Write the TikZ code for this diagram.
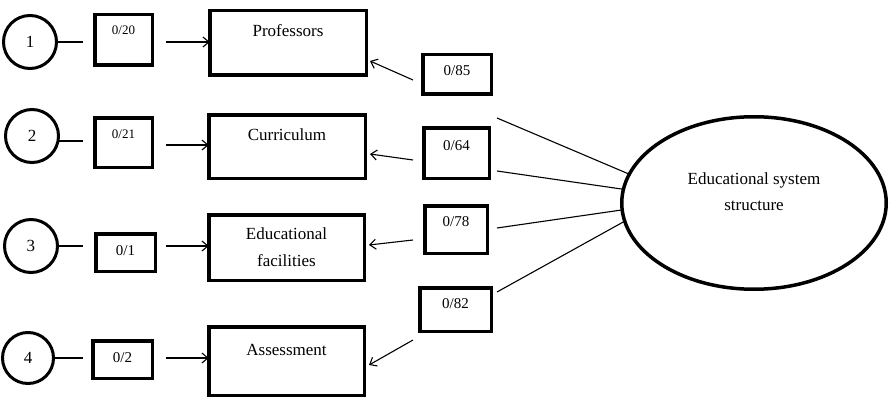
\documentclass[tikz,border=0pt]{standalone}
\usepackage{fontspec}
\setmainfont{Liberation Serif}
\usetikzlibrary{shapes.geometric,arrows.meta}

\begin{document}
\begin{tikzpicture}[x=1pt,y=-1pt,
  every node/.style={inner sep=0pt, outer sep=0pt},
  factor/.style={circle, draw, line width=3pt, minimum size=53pt,
    font=\fontsize{17}{20}\selectfont},
  loadbox/.style={rectangle, draw, line width=3.5pt},
  smallnum/.style={font=\fontsize{13}{15}\selectfont, text height=9pt},
  num/.style={font=\fontsize{15}{18}\selectfont, text height=10pt},
  varbox/.style={rectangle, draw, line width=3.5pt, align=center,
    font=\fontsize{17}{27}\selectfont},
  latent/.style={ellipse, draw, line width=3.5pt, align=center,
    font=\fontsize{17}{26.4}\selectfont},
  link/.style={line width=1.1pt},
  arr/.style={line width=1.1pt, -{Straight Barb[length=6pt,width=10pt]}},
]
\useasboundingbox (0,0) rectangle (892,404);

% numbered indicators
\node[factor] (c1) at (30,42) {1};
\node[factor] (c2) at (32,136) {2};
\node[factor] (c3) at (31,246) {3};
\node[factor, minimum size=51pt] (c4) at (28,358) {4};

% left loading boxes
\node[loadbox, smallnum, minimum width=57.5pt, minimum height=50.5pt, text depth=20pt] (s1) at (123.5,40) {0/20};
\node[loadbox, smallnum, minimum width=57.5pt, minimum height=49.5pt, text depth=17pt] (s2) at (123.5,142.5) {0/21};
\node[loadbox, num, minimum width=59.5pt, minimum height=37.5pt, text depth=4pt] (s3) at (125.5,252.5) {0/1};
\node[loadbox, num, minimum width=59.5pt, minimum height=37.5pt, text depth=4pt] (s4) at (122.5,359.5) {0/2};

% observed variables
\node[varbox, minimum width=156.5pt, minimum height=64.5pt, text height=12pt, text depth=24pt] (b1) at (288,43) {Professors};
\node[varbox, minimum width=156.5pt, minimum height=63.5pt, text height=12pt, text depth=25pt] (b2) at (287,146.5) {Curriculum};
\node[varbox, minimum width=155.5pt, minimum height=65.5pt] (b3) at (286.5,247.5) {Educational\\facilities};
\node[varbox, minimum width=155.5pt, minimum height=68.5pt, text height=12pt, text depth=24pt] (b4) at (286.5,361) {Assessment};

% right loading boxes
\node[loadbox, num, minimum width=68.5pt, minimum height=39.5pt, text depth=7pt] (r1) at (457,74.5) {0/85};
\node[loadbox, num, minimum width=65.5pt, minimum height=50.5pt, text depth=16pt] (r2) at (456.5,153) {0/64};
\node[loadbox, num, minimum width=62.5pt, minimum height=47.5pt, text depth=15.5pt] (r3) at (456,229.5) {0/78};
\node[loadbox, num, minimum width=71.5pt, minimum height=43.5pt, text depth=13pt] (r4) at (455.5,309.5) {0/82};

% latent construct
\node[latent, minimum width=264.5pt, minimum height=172.5pt, text depth=23pt] (E) at (754,203) {Educational system\\structure};

% indicator links
\draw[link, shorten >=11.75pt] (c1.east) -- (c1.east -| s1.west);
\draw[link, shorten >=11.75pt] ([yshift=-5pt]c2.east) -- ([yshift=-5pt]c2.east -| s2.west);
\draw[link, shorten >=12.75pt] (c3.east) -- (c3.east -| s3.west);
\draw[link, shorten >=9.75pt] (c4.east) -- (c4.east -| s4.west);

% left arrows into variables
\draw[arr, shorten <=13.75pt] ([yshift=1pt]b1.west -| s1.east) -- ([yshift=1pt]b1.west);
\draw[arr, shorten <=13.75pt] ([yshift=1.5pt]b2.west -| s2.east) -- ([yshift=1.5pt]b2.west);
\draw[arr, shorten <=10.75pt] ([yshift=1.5pt]b3.west -| s3.east) -- ([yshift=1.5pt]b3.west);
\draw[arr, shorten <=13.75pt] ([yshift=3pt]b4.west -| s4.east) -- ([yshift=3pt]b4.west);

% right arrows into variables
\draw[arr] ([xshift=-9.75pt,yshift=-5.5pt]r1.west) -- ([xshift=3.75pt,yshift=-18pt]b1.east);
\draw[arr] ([xshift=-10.75pt,yshift=-7pt]r2.west) -- ([xshift=4.75pt,yshift=-7.5pt]b2.east);
\draw[arr] ([xshift=-11.75pt,yshift=-10.5pt]r3.west) -- ([xshift=4.75pt,yshift=2.5pt]b3.east);
\draw[arr] ([xshift=-6.75pt,yshift=-30.5pt]r4.west) -- ([xshift=4.75pt,yshift=-4pt]b4.east);

% links from the construct
\draw[link] ([xshift=5.75pt,yshift=-43.5pt]r1.east) -- (E.167);
\draw[link] ([xshift=7.75pt,yshift=-18pt]r2.east) -- (E.174);
\draw[link] ([xshift=9.75pt,yshift=1.5pt]r3.east) -- (E.183);
\draw[link] ([xshift=5.75pt,yshift=17.5pt]r4.east) -- (E.188);
\end{tikzpicture}
\end{document}
